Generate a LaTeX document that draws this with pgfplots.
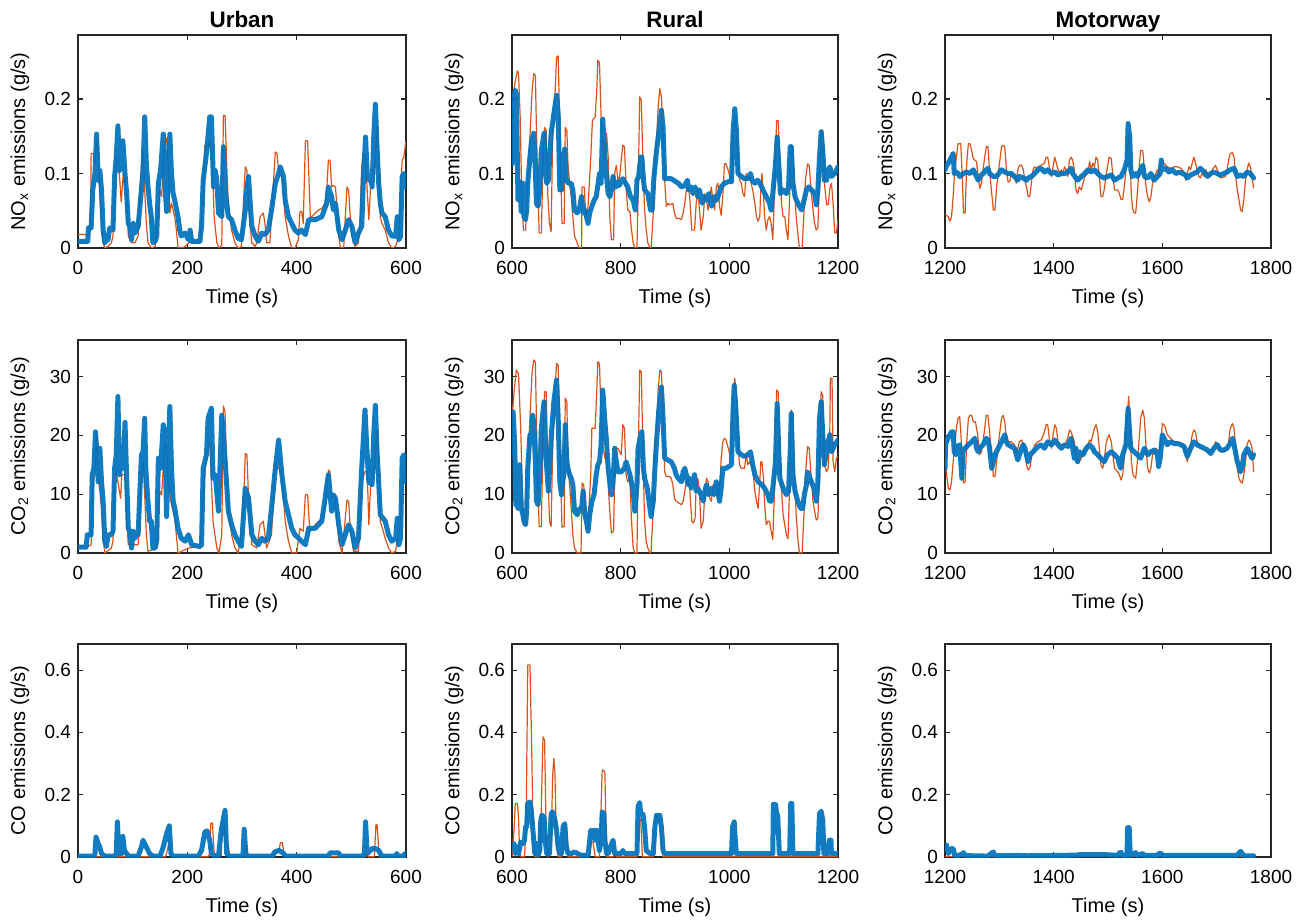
\documentclass[border=0pt]{standalone}
\usepackage{fontspec}
\setmainfont{Liberation Sans}
\usepackage{pgfplots}
\pgfplotsset{compat=1.18}
\definecolor{mblue}{RGB}{0,114,189}
\definecolor{morange}{RGB}{217,83,25}
\definecolor{axc}{RGB}{38,38,38}
\pgfplotsset{
  base/.style={scale only axis, height=106.5pt, ymin=0,
    axis line style={axc, line width=0.6pt},
    every tick/.style={axc, line width=0.6pt},
    tick align=inside, major tick length=2.6pt,
    /pgf/number format/assume math mode=true,
    /pgf/number format/1000 sep={},
    scaled ticks=false,
    ticklabel style={font=\fontsize{9.5}{11}\selectfont, text=black},
    xticklabel style={yshift=-3pt},
    label style={font=\fontsize{9.5}{11}\selectfont},
    every axis x label/.style={at={(axis description cs:0.5,-0.235)}, anchor=center},
    every axis y label/.style={at={(axis description cs:-0.177,0.5)}, anchor=center, rotate=90},
    every axis title/.style={font=\fontsize{11.2}{13}\selectfont\bfseries, at={(axis description cs:0.5,1)}, anchor=base, yshift=3.7pt},
    xlabel={Time (s)}, clip=true},
  c1/.style={base, width=164pt, xmin=0, xmax=600, xtick={0,200,400,600}},
  c2/.style={base, width=163pt, xmin=600, xmax=1200, xtick={600,800,1000,1200}},
  c3/.style={base, width=163pt, xmin=1200, xmax=1800, xtick={1200,1400,1600,1800}},
  rnox/.style={ymax=0.286, ytick={0,0.1,0.2}, ylabel={NO\textsubscript{x} emissions (g/s)}},
  rco2/.style={ymax=36.2, ytick={0,10,20,30}, ylabel={CO\textsubscript{2} emissions (g/s)}},
  rco/.style={ymax=0.684, ytick={0,0.2,0.4,0.6}, ylabel={CO emissions (g/s)}},
  bl/.style={mblue, line width=2.5pt, opacity=0.93, line join=round, line cap=round},
  orl/.style={morange, line width=0.6pt, line join=round},
}
\begin{document}
\begin{tikzpicture}
\path[use as bounding box] (0,0) rectangle (654.5pt,461pt);
% ---------------- Row 1: NOx
\begin{axis}[c1, rnox, title={Urban}, at={(39pt,337pt)}, anchor=south west]
\addplot[orl] coordinates {(0,0.018)(12,0.018)(18,0.016)(23,0.024)(24,0.127)(28,0.127)(31,0.113)(34,0.149)(37,0.122)(40,0.069)(43,0.033)(46,0.007)(49,0)(55,0.002)(61,0.007)(64,0.016)(67,0.069)(70,0.122)(73,0.118)(76,0.096)(79,0.062)(83,0.100)(86,0.100)(89,0.069)(92,0.016)(98,0.007)(104,0.007)(110,0.016)(113,0.069)(116,0.113)(119,0.129)(122,0.078)(125,0.033)(128,0.007)(134,0)(141,0.002)(147,0.051)(150,0.078)(153,0.069)(156,0.113)(159,0.144)(162,0.147)(165,0.113)(168,0.047)(171,0.060)(174,0.051)(177,0.042)(180,0.024)(183,0)(189,0)(196,0.002)(202,0.007)(214,0.007)(223,0.009)(229,0.069)(232,0.138)(238,0.136)(241,0.144)(246,0.113)(249,0.042)(254,0.007)(258,0)(263,0.004)(266,0.178)(269,0.178)(272,0.113)(275,0.060)(281,0.024)(287,0.007)(293,0)(299,0.002)(302,0.051)(306,0.109)(309,0.104)(312,0.060)(315,0.029)(318,0.007)(324,0.002)(327,0.007)(333,0.042)(339,0.047)(342,0.033)(345,0.007)(351,0.007)(357,0.082)(361,0.129)(364,0.127)(367,0.104)(373,0.096)(379,0.042)(385,0.016)(391,0)(397,0)(403,0.011)(406,0.049)(409,0.049)(412,0.033)(416,0.144)(420,0.144)(425,0.042)(428,0.042)(434,0.047)(440,0.051)(446,0.053)(452,0.060)(455,0.078)(458,0.118)(461,0.118)(464,0.082)(467,0.084)(471,0.082)(474,0.051)(477,0.016)(480,0)(486,0)(489,0.042)(492,0.082)(495,0.078)(498,0.042)(501,0.016)(507,0.002)(513,0.007)(516,0.042)(519,0.109)(522,0.127)(526,0.118)(529,0.078)(532,0.038)(535,0.078)(538,0.082)(541,0.104)(544,0.122)(547,0.162)(550,0.113)(553,0.042)(556,0.033)(562,0.024)(568,0.007)(574,0)(581,0.002)(587,0.016)(590,0.069)(593,0.118)(596,0.122)(600,0.144)};
\addplot[bl] coordinates {(0,0.009)(18,0.009)(19,0.027)(24,0.027)(27,0.078)(31,0.100)(34,0.153)(37,0.091)(40,0.104)(43,0.078)(46,0.024)(49,0.007)(52,0.011)(55,0.011)(58,0.027)(64,0.024)(67,0.096)(70,0.122)(73,0.164)(76,0.104)(79,0.122)(82,0.144)(86,0.100)(89,0.073)(92,0.033)(95,0.029)(98,0.011)(101,0.033)(104,0.020)(107,0.024)(110,0.029)(116,0.078)(119,0.104)(122,0.176)(125,0.113)(128,0.082)(131,0.060)(134,0.042)(137,0.007)(141,0.009)(144,0.016)(147,0.087)(151,0.104)(156,0.153)(159,0.087)(162,0.049)(165,0.091)(168,0.153)(171,0.100)(174,0.073)(177,0.064)(183,0.042)(186,0.024)(189,0.016)(196,0.020)(202,0.011)(205,0.024)(208,0.009)(223,0.009)(226,0.029)(229,0.091)(235,0.127)(241,0.176)(244,0.176)(248,0.082)(251,0.104)(254,0.091)(257,0.047)(263,0.042)(266,0.136)(269,0.078)(272,0.060)(275,0.042)(281,0.038)(287,0.024)(293,0.013)(299,0.011)(306,0.051)(309,0.078)(312,0.096)(315,0.060)(318,0.029)(324,0.016)(330,0.009)(336,0.020)(342,0.018)(348,0.024)(354,0.051)(361,0.087)(367,0.100)(370,0.109)(376,0.096)(379,0.064)(385,0.042)(391,0.033)(397,0.024)(403,0.020)(409,0.024)(416,0.018)(422,0.038)(434,0.038)(446,0.042)(455,0.060)(458,0.082)(464,0.069)(467,0.051)(471,0.060)(477,0.024)(483,0.011)(489,0.024)(495,0.038)(501,0.029)(507,0.007)(513,0.020)(519,0.029)(522,0.091)(526,0.149)(529,0.100)(532,0.091)(535,0.096)(538,0.082)(541,0.149)(544,0.193)(547,0.136)(550,0.087)(553,0.060)(556,0.047)(562,0.042)(568,0.024)(574,0.016)(581,0.016)(584,0.042)(587,0.011)(590,0.016)(593,0.096)(596,0.100)(600,0.082)};
\end{axis}
\begin{axis}[c2, rnox, title={Rural}, at={(256pt,337pt)}, anchor=south west]
\addplot[orl] coordinates {(600,0.203)(604,0.214)(606,0.224)(610,0.238)(612,0.234)(615,0.176)(618,0.069)(621,0.024)(625,0.024)(628,0.078)(633,0.149)(637,0.212)(640,0.234)(643,0.232)(645,0.158)(648,0.069)(650,0.020)(654,0.020)(657,0.113)(660,0.162)(663,0.158)(666,0.069)(669,0.033)(672,0.022)(675,0.158)(679,0.203)(682,0.256)(685,0.258)(688,0.158)(692,0.033)(696,0.033)(698,0.162)(701,0.158)(703,0.113)(706,0.087)(709,0.069)(712,0.042)(715,0.016)(720,0.007)(723,0)(728,0)(729,0.082)(733,0.082)(736,0.042)(740,0.056)(745,0.122)(748,0.171)(753,0.176)(756,0.212)(758,0.252)(761,0.249)(764,0.176)(767,0.144)(771,0.118)(774,0.154)(777,0.122)(780,0.042)(783,0.011)(787,0.011)(789,0.100)(792,0.111)(795,0.091)(798,0.096)(801,0.118)(804,0.138)(807,0.136)(810,0.082)(813,0.051)(817,0.049)(820,0.024)(823,0.007)(826,0)(830,0)(832,0.069)(835,0.203)(838,0.198)(841,0.113)(844,0.051)(847,0.024)(850,0.007)(854,0)(856,0)(860,0.047)(863,0.113)(866,0.144)(869,0.189)(872,0.214)(875,0.203)(878,0.158)(881,0.091)(884,0.056)(887,0.060)(890,0.058)(896,0.060)(899,0.047)(902,0.040)(907,0.040)(912,0.038)(915,0.047)(918,0.060)(921,0.078)(924,0.082)(927,0.069)(931,0.024)(936,0.024)(939,0.060)(942,0.078)(945,0.051)(948,0.024)(952,0.042)(955,0.073)(958,0.064)(961,0.051)(964,0.069)(967,0.082)(970,0.060)(973,0.051)(976,0.082)(979,0.087)(982,0.056)(985,0.044)(988,0.069)(991,0.113)(994,0.113)(998,0.104)(1001,0.096)(1004,0.091)(1007,0.158)(1010,0.178)(1013,0.158)(1016,0.113)(1019,0.091)(1022,0.087)(1025,0.073)(1028,0.069)(1031,0.100)(1034,0.091)(1037,0.096)(1040,0.087)(1043,0.078)(1047,0.060)(1050,0.042)(1053,0.036)(1056,0.042)(1058,0.082)(1060,0.100)(1063,0.069)(1065,0.042)(1068,0.024)(1071,0.038)(1074,0.042)(1077,0.033)(1080,0.011)(1083,0.073)(1087,0.171)(1090,0.171)(1093,0.113)(1096,0.060)(1099,0.042)(1102,0.042)(1105,0.024)(1108,0.011)(1111,0.069)(1114,0.138)(1117,0.131)(1120,0.082)(1123,0.042)(1126,0.020)(1129,0)(1134,0)(1137,0.042)(1140,0.091)(1144,0.113)(1147,0.111)(1150,0.082)(1154,0.051)(1157,0.033)(1160,0.024)(1163,0.027)(1166,0.096)(1169,0.158)(1172,0.158)(1175,0.087)(1179,0.058)(1182,0.058)(1185,0.080)(1188,0.087)(1191,0.060)(1194,0.020)(1197,0.020)(1200,0.038)};
\addplot[bl] coordinates {(600,0.113)(602,0.193)(606,0.212)(608,0.207)(611,0.065)(614,0.089)(617,0.049)(620,0.087)(622,0.042)(625,0.038)(627,0.051)(629,0.087)(633,0.122)(636,0.144)(640,0.154)(643,0.104)(645,0.060)(648,0.056)(651,0.078)(654,0.131)(659,0.154)(661,0.104)(664,0.087)(667,0.091)(672,0.154)(677,0.180)(682,0.205)(685,0.180)(688,0.078)(691,0.078)(694,0.104)(697,0.133)(700,0.091)(704,0.087)(709,0.087)(712,0.078)(715,0.051)(720,0.047)(725,0.056)(728,0.069)(731,0.047)(734,0.051)(737,0.042)(740,0.033)(743,0.047)(747,0.056)(751,0.064)(755,0.069)(758,0.084)(761,0.100)(764,0.087)(767,0.173)(771,0.122)(774,0.096)(777,0.073)(780,0.069)(783,0.078)(786,0.096)(789,0.082)(792,0.082)(795,0.089)(798,0.084)(801,0.091)(804,0.093)(809,0.087)(813,0.082)(818,0.069)(823,0.064)(827,0.051)(830,0.091)(833,0.096)(837,0.122)(839,0.122)(842,0.091)(844,0.078)(850,0.073)(855,0.051)(858,0.051)(861,0.093)(866,0.131)(870,0.154)(875,0.185)(878,0.162)(881,0.093)(893,0.093)(906,0.087)(912,0.082)(918,0.084)(923,0.091)(925,0.078)(930,0.082)(933,0.073)(937,0.082)(942,0.069)(945,0.078)(950,0.060)(953,0.069)(958,0.064)(962,0.073)(967,0.056)(972,0.069)(976,0.064)(979,0.069)(985,0.082)(991,0.087)(998,0.089)(1004,0.089)(1007,0.158)(1010,0.187)(1013,0.158)(1016,0.100)(1022,0.096)(1028,0.093)(1034,0.093)(1039,0.100)(1042,0.091)(1047,0.087)(1052,0.091)(1056,0.087)(1062,0.078)(1068,0.069)(1074,0.060)(1077,0.051)(1080,0.073)(1085,0.113)(1088,0.149)(1091,0.113)(1094,0.073)(1099,0.078)(1105,0.073)(1109,0.082)(1112,0.136)(1114,0.136)(1117,0.087)(1121,0.069)(1126,0.060)(1133,0.051)(1135,0.056)(1142,0.078)(1146,0.082)(1151,0.078)(1157,0.073)(1160,0.058)(1163,0.078)(1166,0.122)(1169,0.156)(1172,0.131)(1175,0.091)(1179,0.091)(1182,0.104)(1185,0.109)(1188,0.096)(1194,0.100)(1200,0.109)};
\end{axis}
\begin{axis}[c3, rnox, title={Motorway}, at={(472.5pt,337pt)}, anchor=south west]
\addplot[orl] coordinates {(1200,0.045)(1206,0.042)(1209,0.036)(1212,0.042)(1215,0.069)(1218,0.105)(1221,0.122)(1224,0.140)(1229,0.140)(1232,0.091)(1234,0.047)(1237,0.047)(1240,0.114)(1243,0.140)(1246,0.140)(1249,0.131)(1252,0.120)(1258,0.116)(1261,0.096)(1264,0.080)(1267,0.087)(1270,0.105)(1273,0.122)(1276,0.136)(1279,0.136)(1282,0.105)(1286,0.073)(1289,0.051)(1292,0.051)(1295,0.082)(1298,0.100)(1301,0.118)(1304,0.136)(1307,0.138)(1310,0.136)(1313,0.105)(1316,0.089)(1319,0.089)(1322,0.100)(1325,0.100)(1328,0.096)(1331,0.087)(1334,0.105)(1337,0.111)(1341,0.111)(1344,0.105)(1347,0.091)(1350,0.082)(1353,0.069)(1356,0.069)(1359,0.087)(1362,0.105)(1365,0.109)(1368,0.107)(1371,0.109)(1377,0.111)(1383,0.114)(1386,0.122)(1389,0.122)(1392,0.109)(1396,0.096)(1399,0.109)(1402,0.122)(1405,0.114)(1408,0.105)(1411,0.100)(1414,0.105)(1417,0.100)(1420,0.109)(1423,0.105)(1426,0.096)(1429,0.118)(1432,0.122)(1435,0.118)(1438,0.105)(1441,0.078)(1444,0.073)(1447,0.082)(1451,0.078)(1457,0.096)(1463,0.100)(1466,0.116)(1469,0.105)(1472,0.114)(1475,0.109)(1478,0.122)(1481,0.118)(1484,0.096)(1487,0.069)(1490,0.069)(1493,0.078)(1496,0.096)(1499,0.109)(1502,0.122)(1506,0.120)(1509,0.096)(1512,0.078)(1518,0.078)(1521,0.073)(1524,0.065)(1527,0.065)(1530,0.082)(1533,0.105)(1536,0.140)(1538,0.151)(1541,0.114)(1543,0.069)(1546,0.051)(1548,0.047)(1551,0.047)(1554,0.073)(1557,0.105)(1560,0.131)(1564,0.131)(1567,0.105)(1570,0.082)(1573,0.069)(1576,0.062)(1579,0.069)(1582,0.087)(1585,0.096)(1588,0.100)(1591,0.105)(1594,0.096)(1597,0.114)(1600,0.118)(1603,0.114)(1609,0.109)(1615,0.107)(1622,0.109)(1628,0.109)(1634,0.107)(1640,0.102)(1643,0.091)(1646,0.100)(1649,0.109)(1652,0.105)(1655,0.114)(1658,0.122)(1661,0.114)(1664,0.105)(1667,0.096)(1670,0.094)(1673,0.100)(1677,0.096)(1680,0.105)(1683,0.100)(1686,0.096)(1689,0.100)(1692,0.105)(1698,0.111)(1701,0.105)(1704,0.096)(1707,0.094)(1716,0.096)(1719,0.105)(1722,0.118)(1725,0.127)(1729,0.128)(1732,0.122)(1735,0.096)(1738,0.078)(1741,0.065)(1744,0.051)(1747,0.049)(1750,0.065)(1753,0.091)(1756,0.105)(1759,0.114)(1762,0.109)(1765,0.096)(1768,0.080)};
\addplot[bl] coordinates {(1200,0.105)(1203,0.111)(1206,0.114)(1209,0.118)(1212,0.122)(1215,0.127)(1217,0.100)(1221,0.102)(1224,0.100)(1227,0.096)(1234,0.100)(1240,0.102)(1246,0.100)(1252,0.105)(1258,0.096)(1261,0.091)(1264,0.096)(1270,0.100)(1276,0.105)(1279,0.107)(1282,0.100)(1289,0.096)(1295,0.096)(1304,0.105)(1310,0.102)(1316,0.100)(1322,0.100)(1328,0.096)(1334,0.091)(1337,0.096)(1344,0.094)(1350,0.091)(1353,0.094)(1359,0.096)(1365,0.100)(1371,0.105)(1377,0.107)(1383,0.102)(1389,0.105)(1396,0.100)(1402,0.102)(1408,0.098)(1414,0.100)(1420,0.100)(1426,0.102)(1432,0.107)(1435,0.100)(1441,0.094)(1444,0.091)(1451,0.096)(1457,0.100)(1463,0.105)(1469,0.102)(1475,0.105)(1481,0.100)(1487,0.096)(1493,0.094)(1499,0.096)(1506,0.098)(1512,0.091)(1518,0.094)(1524,0.096)(1530,0.105)(1535,0.118)(1537,0.167)(1540,0.149)(1542,0.105)(1545,0.096)(1551,0.100)(1554,0.096)(1560,0.105)(1564,0.111)(1567,0.096)(1573,0.094)(1579,0.100)(1585,0.091)(1591,0.096)(1596,0.100)(1598,0.118)(1600,0.105)(1606,0.107)(1612,0.102)(1618,0.105)(1625,0.100)(1631,0.102)(1637,0.100)(1643,0.098)(1646,0.094)(1652,0.098)(1658,0.100)(1664,0.102)(1670,0.107)(1677,0.102)(1683,0.096)(1689,0.100)(1695,0.102)(1701,0.100)(1707,0.098)(1713,0.100)(1719,0.102)(1725,0.105)(1732,0.107)(1738,0.096)(1744,0.098)(1750,0.096)(1756,0.102)(1762,0.100)(1768,0.094)};
\end{axis}
% ---------------- Row 2: CO2
\begin{axis}[c1, rco2, at={(39pt,184.5pt)}, anchor=south west]
\addplot[orl] coordinates {(0,1.1)(18,1.1)(24,1.4)(27,12.1)(31,13.3)(34,20.1)(37,13.3)(43,7.6)(46,2.5)(49,0)(61,0.85)(64,2.0)(67,12.7)(70,13.8)(73,12.1)(78,9.3)(80,13.3)(86,13.3)(89,5.9)(92,1.4)(110,1.4)(116,13.3)(119,15.5)(122,9.9)(125,3.1)(128,0.3)(144,0.85)(147,7.6)(150,10.5)(153,9.9)(156,14.4)(159,18.4)(162,17.8)(165,11.6)(171,8.2)(177,5.9)(183,0)(202,0.85)(223,1.1)(229,9.9)(235,16.7)(241,18.9)(247,5.4)(254,0.85)(258,0)(263,3.1)(266,25.0)(269,24.0)(272,14.4)(275,7.1)(281,3.1)(287,0.85)(293,0)(302,5.4)(306,16.9)(309,16.7)(312,9.3)(318,1.4)(327,0.85)(333,4.8)(339,5.4)(345,0.85)(354,3.1)(361,15.3)(367,14.4)(373,13.3)(379,5.4)(385,2.0)(391,0)(400,0)(406,4.2)(412,3.7)(416,9.9)(420,9.9)(424,3.7)(434,4.8)(446,5.9)(452,7.6)(458,14.1)(461,13.8)(464,9.3)(470,9.9)(477,2.0)(483,0)(489,5.9)(492,9.0)(495,8.8)(498,4.2)(504,0.3)(513,0.3)(519,12.1)(525,13.8)(529,13.8)(532,4.8)(535,11.0)(541,13.3)(547,20.9)(550,15.5)(553,5.4)(562,2.5)(568,0.85)(574,0)(581,0.3)(590,5.4)(593,11.6)(596,13.8)(600,14.4)};
\addplot[bl] coordinates {(0,1.0)(15,1.0)(17,3.1)(24,3.1)(26,13.3)(29,14.4)(32,20.6)(34,17.8)(37,12.1)(40,17.8)(43,12.1)(46,8.8)(49,2.0)(52,1.1)(55,3.1)(61,3.1)(64,3.7)(67,14.4)(70,16.7)(73,26.6)(76,13.3)(79,15.5)(83,14.4)(86,22.2)(89,12.7)(92,4.2)(95,3.7)(98,0.85)(101,3.7)(104,2.5)(107,3.1)(110,3.1)(116,16.7)(119,17.2)(122,22.9)(124,14.4)(127,9.9)(131,5.4)(134,5.4)(137,0.85)(141,0.85)(144,2.0)(147,16.1)(151,14.4)(156,21.8)(159,20.1)(162,6.2)(165,15.5)(168,24.9)(171,14.4)(174,8.8)(177,7.6)(183,4.2)(189,2.5)(196,2.0)(202,3.1)(208,1.4)(223,1.1)(226,1.4)(229,14.4)(235,16.7)(238,22.9)(244,24.6)(247,12.7)(251,13.3)(257,7.1)(263,23.4)(266,20.1)(272,11.6)(275,7.1)(281,4.8)(287,3.1)(293,2.0)(299,1.1)(306,11.0)(312,9.3)(318,3.1)(324,2.0)(330,1.4)(336,2.5)(342,2.0)(348,2.5)(354,7.6)(361,14.4)(367,19.2)(373,13.3)(379,8.8)(385,6.5)(391,4.2)(397,3.1)(409,2.0)(416,1.4)(422,4.2)(434,4.2)(446,5.4)(452,9.3)(458,13.3)(464,7.1)(467,9.9)(471,9.3)(477,4.8)(483,1.4)(489,3.1)(495,4.8)(501,3.7)(507,0.85)(513,2.5)(519,14.4)(525,24.3)(528,18.4)(532,12.1)(538,11.6)(541,20.1)(544,25.1)(547,17.2)(550,12.1)(553,6.5)(562,5.4)(568,3.1)(574,2.0)(581,2.5)(584,5.9)(587,1.4)(590,2.5)(593,16.1)(596,16.7)(600,12.1)};
\end{axis}
\begin{axis}[c2, rco2, at={(256pt,184.5pt)}, anchor=south west]
\addplot[orl] coordinates {(600,22.9)(604,27.7)(608,31.1)(612,30.5)(616,21.2)(619,10.5)(621,5.1)(625,4.8)(628,13.3)(633,22.9)(637,30.8)(640,32.8)(643,32.5)(645,22.3)(648,9.9)(650,4.5)(654,4.5)(657,18.9)(660,27.4)(663,27.4)(666,14.1)(669,5.4)(672,4.5)(675,18.6)(679,27.4)(682,32.2)(685,31.9)(688,18.4)(692,4.4)(696,4.5)(698,26.3)(701,25.7)(703,14.4)(706,11.6)(709,7.6)(712,3.1)(715,0.85)(720,0)(727,0)(729,11.9)(732,11.6)(736,4.2)(740,4.2)(745,13.6)(747,21.2)(753,21.2)(756,27.4)(758,32.5)(761,32.2)(764,22.9)(767,18.4)(771,16.1)(774,17.2)(777,11.6)(780,7.1)(783,3.4)(787,3.7)(789,13.3)(792,17.8)(795,17.8)(801,16.7)(804,21.8)(807,21.2)(810,13.3)(813,12.1)(817,12.7)(820,5.4)(823,0.85)(826,0)(830,0)(832,14.4)(835,31.1)(838,30.8)(841,17.2)(844,5.4)(847,2.0)(850,0.85)(854,0)(856,0.3)(860,7.6)(863,17.2)(866,21.2)(869,27.7)(872,31.1)(875,30.8)(878,24.0)(881,13.8)(884,13.0)(890,13.0)(893,12.7)(896,11.6)(899,9.3)(902,8.8)(912,8.2)(915,8.8)(918,10.5)(921,12.1)(924,12.7)(927,11.0)(931,5.4)(934,5.1)(937,5.9)(939,11.6)(942,12.7)(945,10.5)(948,4.2)(952,5.4)(955,10.5)(958,12.7)(961,12.1)(964,9.3)(967,8.8)(970,11.6)(973,11.0)(976,11.6)(979,9.3)(982,10.5)(985,16.1)(988,18.9)(991,19.5)(994,19.2)(998,17.8)(1001,16.7)(1004,17.2)(1007,25.7)(1010,29.7)(1013,26.8)(1016,18.4)(1019,15.0)(1022,14.4)(1028,14.4)(1031,16.7)(1034,15.0)(1037,15.5)(1040,15.0)(1043,14.4)(1047,10.5)(1050,8.8)(1053,7.6)(1056,12.1)(1058,15.5)(1060,15.5)(1063,12.7)(1065,8.2)(1068,4.8)(1071,5.4)(1074,5.4)(1077,3.7)(1080,2.3)(1083,10.5)(1087,27.7)(1090,27.4)(1093,15.5)(1096,11.0)(1099,6.5)(1102,4.8)(1105,3.1)(1108,2.4)(1111,11.6)(1114,24.3)(1117,23.4)(1120,13.3)(1123,6.5)(1126,2.5)(1129,0)(1134,0)(1137,5.9)(1140,13.3)(1144,18.1)(1147,17.8)(1150,13.8)(1154,8.8)(1157,7.1)(1160,5.6)(1163,5.9)(1166,14.4)(1169,27.4)(1172,26.8)(1175,14.9)(1179,13.8)(1182,14.4)(1185,21.2)(1186,29.7)(1189,29.7)(1191,15.5)(1194,13.8)(1197,16.1)(1200,16.4)};
\addplot[bl] coordinates {(600,17.2)(602,24.0)(605,18.4)(607,8.2)(609,12.7)(611,7.6)(614,15.0)(617,7.6)(620,6.5)(622,5.4)(625,4.8)(627,7.1)(629,14.4)(633,20.1)(636,18.9)(638,23.4)(640,22.3)(643,15.5)(645,8.8)(648,8.2)(651,13.3)(654,21.2)(659,25.7)(661,17.8)(664,14.4)(667,10.5)(672,19.5)(677,25.7)(682,29.4)(685,22.9)(688,12.1)(691,9.9)(696,14.4)(698,21.8)(701,15.5)(703,14.4)(706,13.3)(709,12.7)(712,11.6)(715,7.1)(720,6.5)(725,7.6)(728,7.6)(731,10.5)(734,6.5)(737,5.4)(740,3.7)(743,6.5)(747,8.8)(751,9.9)(755,13.3)(758,15.0)(761,15.5)(764,18.4)(767,27.7)(771,22.3)(774,18.9)(777,14.4)(780,12.1)(783,9.9)(786,12.1)(789,17.8)(792,15.5)(795,13.8)(801,13.8)(807,14.4)(810,15.5)(817,13.3)(823,10.5)(826,7.1)(830,11.6)(832,17.8)(837,20.1)(839,20.6)(842,14.4)(844,12.7)(849,11.0)(853,8.2)(856,6.2)(860,8.8)(863,14.4)(866,18.9)(870,24.0)(875,28.2)(878,22.9)(881,16.1)(887,15.8)(893,15.5)(899,14.4)(902,13.3)(906,12.7)(912,12.1)(915,13.8)(918,14.4)(921,13.3)(924,11.6)(927,12.7)(930,11.0)(933,12.1)(936,13.3)(939,10.5)(942,11.0)(948,9.9)(952,8.8)(955,10.5)(958,11.6)(962,9.9)(967,11.0)(972,9.9)(976,12.1)(979,10.5)(982,8.8)(985,11.0)(988,14.4)(994,14.4)(1004,15.0)(1007,24.6)(1009,28.5)(1012,24.6)(1016,17.2)(1022,16.7)(1028,16.4)(1034,16.7)(1039,17.2)(1043,15.0)(1047,13.3)(1053,12.1)(1060,11.6)(1065,11.0)(1071,9.9)(1074,8.8)(1077,8.8)(1080,11.0)(1085,15.5)(1088,25.4)(1091,17.2)(1093,12.7)(1099,11.0)(1105,9.9)(1109,10.5)(1112,17.2)(1114,23.7)(1117,13.3)(1121,10.5)(1126,8.8)(1131,7.6)(1135,7.6)(1138,9.9)(1142,11.6)(1144,13.8)(1151,12.1)(1156,11.0)(1160,8.8)(1163,12.1)(1166,22.9)(1169,25.7)(1172,20.1)(1175,15.0)(1179,17.2)(1182,18.9)(1185,20.1)(1188,17.2)(1191,17.8)(1194,18.4)(1200,19.2)};
\end{axis}
\begin{axis}[c3, rco2, at={(472.5pt,184.5pt)}, anchor=south west]
\addplot[orl] coordinates {(1200,16.1)(1203,13.3)(1206,11.0)(1209,10.7)(1212,12.1)(1215,15.5)(1218,18.4)(1221,21.2)(1224,22.9)(1227,23.2)(1229,20.6)(1232,15.5)(1234,11.9)(1237,12.1)(1240,18.9)(1243,22.9)(1246,23.4)(1249,23.4)(1252,22.3)(1256,22.3)(1260,20.1)(1264,16.7)(1267,17.2)(1270,18.9)(1273,21.2)(1276,23.4)(1279,23.4)(1282,20.6)(1286,16.1)(1289,13.0)(1292,13.0)(1295,15.5)(1298,18.4)(1301,20.6)(1304,22.9)(1307,23.4)(1310,22.3)(1313,19.5)(1316,18.9)(1322,18.9)(1328,18.4)(1331,16.7)(1334,17.8)(1337,18.9)(1341,19.2)(1344,18.4)(1347,17.2)(1350,15.0)(1353,14.1)(1356,14.4)(1359,16.1)(1362,17.2)(1365,18.4)(1371,18.9)(1377,19.2)(1383,20.6)(1386,21.8)(1389,21.8)(1392,19.5)(1396,17.8)(1399,20.1)(1402,21.8)(1405,21.2)(1408,18.9)(1414,18.4)(1420,18.4)(1426,19.5)(1429,20.9)(1432,20.6)(1438,18.9)(1441,16.7)(1444,15.8)(1447,15.5)(1451,16.1)(1457,17.5)(1463,18.4)(1466,19.2)(1469,18.9)(1472,20.1)(1475,21.2)(1478,21.8)(1481,20.6)(1484,17.8)(1487,15.0)(1490,14.4)(1493,15.5)(1496,18.4)(1499,19.5)(1502,20.1)(1506,18.9)(1509,16.7)(1512,14.4)(1518,13.8)(1521,13.3)(1524,12.4)(1527,13.3)(1530,16.1)(1533,20.1)(1536,24.0)(1538,26.6)(1541,21.2)(1543,15.5)(1546,13.3)(1548,13.0)(1551,12.7)(1554,15.5)(1557,18.9)(1560,22.9)(1564,24.3)(1567,22.9)(1570,17.8)(1573,14.4)(1576,13.6)(1579,14.4)(1582,16.7)(1585,16.9)(1588,17.8)(1591,17.5)(1594,17.2)(1597,18.9)(1600,22.0)(1603,21.8)(1606,21.2)(1609,20.1)(1615,19.5)(1622,18.9)(1628,18.9)(1634,18.6)(1640,18.4)(1643,16.7)(1646,15.5)(1649,17.2)(1652,18.4)(1655,20.1)(1658,20.9)(1661,20.6)(1664,18.9)(1667,18.4)(1670,17.8)(1677,17.5)(1683,17.2)(1689,17.2)(1695,18.1)(1698,18.9)(1701,18.4)(1707,17.2)(1713,17.2)(1719,17.5)(1722,18.9)(1725,21.2)(1729,22.0)(1732,21.2)(1735,17.8)(1738,14.4)(1741,12.7)(1744,12.1)(1747,11.9)(1750,13.3)(1753,15.5)(1756,18.4)(1759,19.2)(1762,18.9)(1765,17.8)(1768,13.8)};
\addplot[bl] coordinates {(1200,14.4)(1201,18.4)(1204,19.2)(1209,20.1)(1212,20.6)(1215,20.6)(1217,17.2)(1220,16.7)(1221,17.8)(1227,18.4)(1231,12.7)(1233,17.2)(1237,17.8)(1243,18.4)(1249,18.9)(1255,19.5)(1258,17.8)(1261,17.2)(1264,17.8)(1270,18.4)(1276,19.5)(1279,19.2)(1282,17.8)(1286,14.4)(1289,15.5)(1292,16.7)(1298,17.8)(1304,18.9)(1310,20.1)(1313,18.9)(1316,18.4)(1322,18.1)(1328,17.8)(1334,15.8)(1337,16.7)(1341,17.8)(1344,18.4)(1347,17.8)(1353,15.5)(1356,16.7)(1362,17.2)(1368,17.8)(1371,18.1)(1377,18.4)(1383,17.8)(1389,18.9)(1396,18.4)(1402,19.2)(1408,18.4)(1414,17.8)(1420,18.4)(1426,18.1)(1432,19.5)(1435,17.8)(1438,16.1)(1441,17.8)(1444,15.5)(1447,17.2)(1454,16.7)(1460,17.8)(1466,18.4)(1472,17.8)(1475,17.2)(1481,16.7)(1487,16.1)(1493,15.5)(1496,16.1)(1499,16.7)(1506,17.2)(1512,16.7)(1518,16.1)(1523,14.4)(1527,16.7)(1533,18.4)(1537,24.6)(1540,20.1)(1542,17.8)(1548,17.2)(1554,16.7)(1560,16.1)(1567,17.8)(1573,16.7)(1579,17.2)(1585,17.5)(1591,16.7)(1593,14.7)(1596,16.1)(1600,20.1)(1603,19.5)(1609,18.4)(1615,18.9)(1622,18.6)(1628,18.6)(1634,18.4)(1640,18.1)(1646,16.4)(1652,17.8)(1658,18.9)(1664,18.4)(1670,18.1)(1677,17.8)(1683,17.5)(1689,16.9)(1695,17.8)(1701,18.4)(1707,17.5)(1713,17.5)(1719,17.8)(1725,18.6)(1729,19.5)(1732,18.4)(1738,15.5)(1741,14.7)(1744,13.8)(1747,14.7)(1750,16.7)(1756,17.8)(1762,16.7)(1765,16.1)(1768,16.7)};
\end{axis}
% ---------------- Row 3: CO
\begin{axis}[c1, rco, at={(39pt,32.5pt)}, anchor=south west]
\addplot[orl] coordinates {(0,0.001)(160,0.001)(162,0.011)(166,0.043)(170,0.011)(173,0.001)(238,0.001)(241,0.011)(243,0.109)(246,0.109)(249,0.011)(262,0.005)(264,0.113)(267,0.113)(270,0.034)(275,0.034)(278,0.001)(304,0.001)(307,0.040)(311,0.001)(360,0.001)(361,0.019)(368,0.019)(370,0.046)(374,0.046)(377,0.001)(525,0.001)(528,0.011)(531,0.001)(542,0.001)(545,0.104)(547,0.104)(551,0.001)(600,0.001)};
\addplot[bl] coordinates {(0,0.003)(30,0.003)(31,0.011)(33,0.064)(37,0.043)(40,0.032)(43,0.011)(49,0.003)(67,0.003)(70,0.011)(72,0.113)(75,0.011)(80,0.011)(82,0.066)(85,0.021)(89,0.011)(92,0.003)(110,0.003)(116,0.032)(119,0.054)(122,0.043)(125,0.032)(131,0.011)(137,0.003)(150,0.003)(156,0.032)(162,0.075)(167,0.100)(170,0.011)(174,0.003)(220,0.003)(226,0.021)(232,0.080)(236,0.084)(241,0.054)(244,0.011)(250,0.003)(257,0.003)(262,0.086)(269,0.150)(272,0.011)(276,0.003)(300,0.003)(302,0.011)(304,0.089)(307,0.011)(310,0.003)(355,0.003)(360,0.016)(367,0.021)(373,0.016)(380,0.003)(458,0.003)(461,0.013)(477,0.013)(480,0.003)(520,0.003)(524,0.011)(526,0.113)(529,0.011)(538,0.027)(544,0.027)(550,0.021)(556,0.003)(580,0.003)(583,0.011)(586,0.003)(596,0.003)(598,0.011)(600,0.011)};
\end{axis}
\begin{axis}[c2, rco, at={(256pt,32.5pt)}, anchor=south west]
\addplot[orl] coordinates {(600,0.001)(604,0.097)(606,0.172)(610,0.172)(612,0.129)(614,0.011)(617,0.001)(623,0.001)(626,0.097)(629,0.617)(633,0.617)(636,0.375)(639,0.054)(642,0.001)(651,0.001)(654,0.161)(657,0.386)(660,0.375)(663,0.054)(666,0.001)(672,0.054)(675,0.268)(677,0.316)(679,0.268)(682,0.032)(685,0.001)(691,0.001)(694,0.054)(697,0.107)(700,0.097)(703,0.001)(729,0.001)(731,0.011)(734,0.011)(737,0.001)(743,0.005)(746,0.048)(749,0.048)(753,0.001)(761,0.001)(764,0.161)(766,0.279)(769,0.279)(771,0.268)(774,0.001)(787,0.001)(789,0.011)(792,0.001)(830,0.001)(832,0.097)(835,0.123)(837,0.118)(840,0.001)(860,0.001)(863,0.097)(866,0.134)(870,0.129)(875,0.054)(878,0.001)(1200,0.001)};
\addplot[bl] coordinates {(600,0.032)(604,0.043)(606,0.011)(610,0.032)(612,0.011)(616,0.048)(620,0.043)(623,0.054)(625,0.097)(627,0.097)(629,0.172)(633,0.177)(636,0.139)(639,0.075)(642,0.011)(645,0.043)(648,0.005)(651,0.021)(653,0.118)(655,0.134)(659,0.129)(661,0.054)(664,0.011)(669,0.011)(672,0.139)(675,0.145)(679,0.118)(682,0.086)(685,0.032)(688,0.011)(691,0.011)(694,0.097)(697,0.107)(700,0.032)(703,0.011)(709,0.011)(715,0.016)(721,0.011)(728,0.005)(740,0.005)(743,0.054)(745,0.086)(747,0.080)(751,0.086)(753,0.054)(756,0.086)(758,0.054)(761,0.021)(764,0.054)(766,0.145)(769,0.139)(771,0.054)(774,0.011)(777,0.011)(786,0.054)(789,0.011)(801,0.011)(804,0.021)(807,0.011)(830,0.011)(832,0.161)(835,0.175)(837,0.137)(841,0.137)(844,0.097)(847,0.021)(854,0.011)(860,0.011)(863,0.097)(866,0.134)(872,0.134)(875,0.097)(878,0.021)(881,0.011)(1004,0.011)(1006,0.097)(1009,0.113)(1011,0.054)(1013,0.011)(1080,0.011)(1081,0.169)(1085,0.169)(1087,0.139)(1089,0.134)(1092,0.011)(1111,0.011)(1113,0.172)(1115,0.172)(1117,0.011)(1163,0.011)(1166,0.139)(1169,0.147)(1172,0.118)(1174,0.011)(1182,0.011)(1184,0.054)(1187,0.054)(1188,0.011)(1200,0.011)};
\end{axis}
\begin{axis}[c3, rco, at={(472.5pt,32.5pt)}, anchor=south west]
\addplot[orl] coordinates {(1200,0.001)(1768,0.001)};
\addplot[bl] coordinates {(1200,0.038)(1203,0.038)(1206,0.011)(1209,0.021)(1212,0.027)(1215,0.027)(1218,0.005)(1224,0.005)(1231,0.009)(1234,0.014)(1237,0.005)(1249,0.004)(1279,0.003)(1286,0.013)(1289,0.016)(1292,0.004)(1334,0.005)(1353,0.004)(1444,0.006)(1447,0.008)(1493,0.008)(1518,0.005)(1521,0.013)(1524,0.015)(1527,0.004)(1535,0.004)(1536,0.094)(1539,0.094)(1541,0.005)(1548,0.011)(1551,0.014)(1554,0.005)(1564,0.011)(1567,0.005)(1591,0.005)(1594,0.011)(1597,0.013)(1600,0.005)(1738,0.005)(1741,0.013)(1744,0.018)(1747,0.011)(1750,0.004)(1768,0.004)};
\end{axis}
\end{tikzpicture}
\end{document}
